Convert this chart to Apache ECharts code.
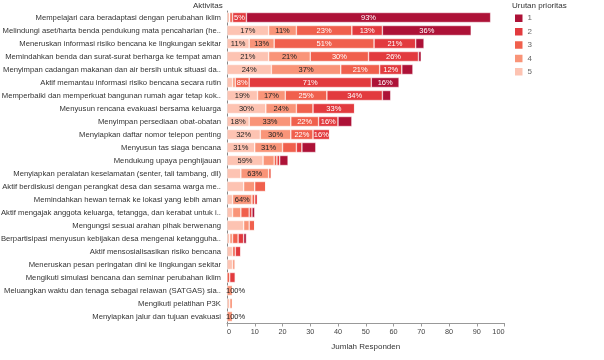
<!DOCTYPE html>
<html>
<head>
<meta charset="utf-8">
<script src="https://cdn.jsdelivr.net/npm/echarts@6/dist/echarts.min.js"></script>
<style>html,body{margin:0;padding:0;background:#fff}#c{width:604px;height:360px}</style>
</head>
<body>
<div id="c"></div>
<script>
const activities = [
  "Mempelajari cara beradaptasi dengan perubahan iklim",
  "Melindungi aset/harta benda pendukung mata pencaharian (he..",
  "Meneruskan informasi risiko bencana ke lingkungan sekitar",
  "Memindahkan benda dan surat-surat berharga ke tempat aman",
  "Menyimpan cadangan makanan dan air bersih untuk situasi da..",
  "Aktif memantau informasi risiko bencana secara rutin",
  "Memperbaiki dan memperkuat bangunan rumah agar tetap kok..",
  "Menyusun rencana evakuasi bersama keluarga",
  "Menyimpan persediaan obat-obatan",
  "Menyiapkan daftar nomor telepon penting",
  "Menyusun tas siaga bencana",
  "Mendukung upaya penghijauan",
  "Menyiapkan peralatan keselamatan (senter, tali tambang, dll)",
  "Aktif berdiskusi dengan perangkat desa dan sesama warga me..",
  "Memindahkan hewan ternak ke lokasi yang lebih aman",
  "Aktif mengajak anggota keluarga, tetangga, dan kerabat untuk i..",
  "Mengungsi sesuai arahan pihak berwenang",
  "Berpartisipasi menyusun kebijakan desa mengenai ketangguha..",
  "Aktif mensosialisasikan risiko bencana",
  "Meneruskan pesan peringatan dini ke lingkungan sekitar",
  "Mengikuti simulasi bencana dan seminar perubahan iklim",
  "Meluangkan waktu dan tenaga sebagai relawan (SATGAS) sia..",
  "Mengikuti pelatihan P3K",
  "Menyiapkan jalur dan tujuan evakuasi"
];
// counts per priority (1 = highest)
const prio1 = [88,32,3,1,4,10,3,0,5,0,5,3,0,0,0,1,0,1,0,0,0,0,0,0];
const prio2 = [5,11,15,18,8,44,20,15,7,6,2,1,0,0,1,1,0,2,2,0,2,0,0,0];
const prio3 = [1,20,36,21,14,5,15,6,10,8,5,1,1,4,1,3,2,2,1,0,1,0,0,0];
const prio4 = [0,10,9,15,25,1,10,11,15,11,10,4,10,4,7,3,2,1,0,1,0,2,1,2];
const prio5 = [1,15,8,15,16,2,11,14,8,12,10,13,5,6,2,2,6,1,2,2,0,0,1,0];
// which priority segments carry a percentage label in each row
const labeled = [[2,1],[5,4,3,2,1],[5,4,3,2],[5,4,3,2],[5,4,3,2],[3,2,1],[5,4,3,2],[5,4,2],
  [5,4,3,2],[5,4,3,2],[5,4],[5],[4],[],[4],[],[],[],[],[],[],[4],[],[4]];
const priorityNames = ['1','2','3','4','5'];
const xTicks = [0,10,20,30,40,50,60,70,80,90,100];

const colors = {1:'#ad1237',2:'#e23a3e',3:'#f0604d',4:'#f99478',5:'#fdc3b2'};
const textColors = {1:'#fff',2:'#fff',3:'#fff',4:'#222',5:'#222'};
const byPrio = {1:prio1,2:prio2,3:prio3,4:prio4,5:prio5};
const totals = activities.map((_,i)=>prio1[i]+prio2[i]+prio3[i]+prio4[i]+prio5[i]);
const FONT = 'Liberation Sans, Arial, sans-serif';

const series = [5,4,3,2,1].map(p => ({
  name: String(p),
  type: 'bar',
  stack: 'total',
  barWidth: 10,
  itemStyle: {color: colors[p], borderColor: '#ffffff', borderWidth: 0.5},
  emphasis: {disabled: true},
  data: byPrio[p].map((v,i) => {
    const pct = Math.round(v / totals[i] * 100);
    const show = v > 0 && labeled[i].includes(p);
    return {
      value: v,
      label: {
        show: show,
        position: pct === 100 ? 'insideLeft' : 'inside',
        distance: pct === 100 ? -1 : 5,
        formatter: pct + '%',
        color: pct === 100 ? '#222' : textColors[p],
        fontSize: 7.5,
        fontFamily: FONT
      }
    };
  })
}));

const chart = echarts.init(document.getElementById('c'), null, {renderer: 'canvas'});
chart.setOption({
  animation: false,
  grid: {left: 227, right: 99.5, top: 11, bottom: 37, containLabel: false, outerBoundsMode: 'none'},
  xAxis: {
    type: 'value', min: xTicks[0], max: xTicks[xTicks.length-1], interval: 10,
    name: 'Jumlah Responden', nameLocation: 'middle', nameGap: 20,
    nameTextStyle: {fontSize: 8, color: '#333', fontFamily: FONT},
    axisLine: {show: true, lineStyle: {color: '#999', width: 1}},
    axisTick: {show: true, length: 3.5, lineStyle: {color: '#999'}},
    axisLabel: {fontSize: 7.3, color: '#444', margin: 5, fontFamily: FONT,
      alignMinLabel: 'left', alignMaxLabel: 'right'},
    splitLine: {show: false}
  },
  yAxis: {
    type: 'category', data: activities, inverse: true,
    axisLine: {show: true, lineStyle: {color: '#888', width: 1}},
    axisTick: {show: false},
    axisLabel: {interval: 0, fontSize: 7.7, color: '#333', margin: 6, fontFamily: FONT}
  },
  legend: {
    data: priorityNames, orient: 'vertical', left: 513, top: 12.5, padding: 0,
    itemWidth: 9.5, itemHeight: 9.5, itemGap: 1.9, icon: 'rect',
    selectedMode: false,
    textStyle: {fontSize: 8, color: '#666', fontFamily: FONT, lineHeight: 9, padding: [0,0,0,-1]}
  },
  graphic: [
    {type: 'text', x: 222.7, y: 6, style: {text: 'Aktivitas', font: '8px ' + FONT, fill: '#333', textAlign: 'right', textVerticalAlign: 'middle'}},
    {type: 'text', x: 512, y: 6, style: {text: 'Urutan prioritas', font: '8px ' + FONT, fill: '#333', textAlign: 'left', textVerticalAlign: 'middle'}}
  ],
  series: series
});
</script>
</body>
</html>
